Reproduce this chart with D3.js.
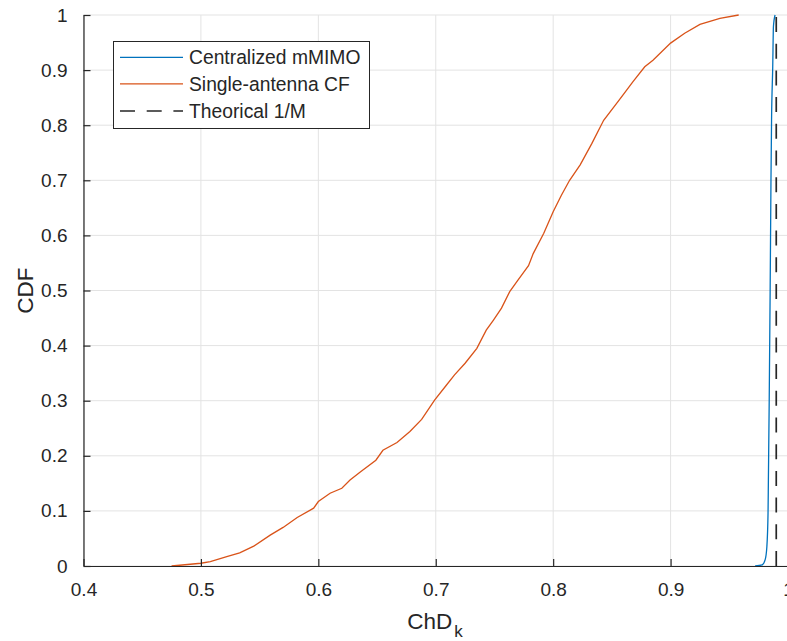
<!DOCTYPE html>
<html>
<head>
<meta charset="utf-8">
<script src="https://cdn.jsdelivr.net/npm/d3@7"></script>
<style>
  html, body { margin: 0; padding: 0; background: #fff; }
  svg { display: block; }
  text { font-family: "Liberation Sans", Arial, Helvetica, sans-serif; fill: #262626; }
</style>
</head>
<body>
<svg id="chart" width="787" height="641"></svg>
<script>
// ---- data ----
const xTicks = [0.4, 0.5, 0.6, 0.7, 0.8, 0.9, 1];
const yTicks = [0, 0.1, 0.2, 0.3, 0.4, 0.5, 0.6, 0.7, 0.8, 0.9, 1];
const xTickLabels = ["0.4", "0.5", "0.6", "0.7", "0.8", "0.9", "1"];
const yTickLabels = ["0", "0.1", "0.2", "0.3", "0.4", "0.5", "0.6", "0.7", "0.8", "0.9", "1"];
const seriesNames = ["Centralized mMIMO", "Single-antenna CF", "Theorical 1/M"];

const centralizedX = [0.972, 0.978, 0.9805, 0.982, 0.983, 0.9833, 0.984, 0.9848, 0.9855, 0.986, 0.987, 0.9876, 0.989];
const centralizedY = [0, 0.002, 0.011, 0.035, 0.096, 0.156, 0.3, 0.5, 0.7, 0.81, 0.906, 0.979, 1];

const singleX = [0.475, 0.500, 0.508, 0.522, 0.533, 0.545, 0.559, 0.570, 0.582, 0.596, 0.600, 0.610, 0.620, 0.627, 0.636,
  0.649, 0.655, 0.667, 0.678, 0.688, 0.699, 0.709, 0.716, 0.725, 0.735, 0.743, 0.749, 0.756, 0.763, 0.770, 0.779,
  0.783, 0.792, 0.800, 0.807, 0.814, 0.823, 0.833, 0.843, 0.856, 0.868, 0.878, 0.885, 0.900, 0.912, 0.925, 0.942, 0.958];
const singleY = [0, 0.005, 0.008, 0.017, 0.024, 0.036, 0.056, 0.070, 0.088, 0.105, 0.117, 0.132, 0.141, 0.156, 0.171,
  0.192, 0.210, 0.224, 0.244, 0.266, 0.301, 0.328, 0.347, 0.368, 0.395, 0.428, 0.446, 0.468, 0.498, 0.519, 0.545,
  0.567, 0.604, 0.643, 0.673, 0.700, 0.728, 0.767, 0.809, 0.845, 0.879, 0.906, 0.918, 0.949, 0.967, 0.983, 0.994, 1.0];

const theoryX = 0.99;

const colors = ["#0072BD", "#D95319", "#262626"];

// ---- layout ----
const svg = d3.select("#chart");
const pL = 83.5, pR = 788, pT = 15, pB = 566;
const x = d3.scaleLinear().domain([0.4, 1]).range([pL, pR]);
const y = d3.scaleLinear().domain([0, 1]).range([pB, pT]);

// grid
const grid = svg.append("g");
grid.selectAll("line.gx").data(xTicks).enter().append("line")
  .attr("x1", d => x(d)).attr("x2", d => x(d)).attr("y1", pT).attr("y2", pB)
  .attr("stroke", "#e3e3e3").attr("stroke-width", 1);
grid.selectAll("line.gy").data(yTicks).enter().append("line")
  .attr("x1", pL).attr("x2", pR).attr("y1", d => y(d)).attr("y2", d => y(d))
  .attr("stroke", "#e3e3e3").attr("stroke-width", 1);

// curves
const line = d3.line().x(d => x(d[0])).y(d => y(d[1]));
svg.append("path").datum(singleX.map((v, i) => [v, singleY[i]]))
  .attr("d", line).attr("fill", "none").attr("stroke", colors[1]).attr("stroke-width", 1.3);
svg.append("path").datum(centralizedX.map((v, i) => [v, centralizedY[i]]))
  .attr("d", line.curve(d3.curveMonotoneX)).attr("fill", "none").attr("stroke", colors[0]).attr("stroke-width", 1.3);
svg.append("line")
  .attr("x1", x(theoryX)).attr("x2", x(theoryX)).attr("y1", y(0)).attr("y2", y(1))
  .attr("stroke", colors[2]).attr("stroke-width", 1.7).attr("stroke-dasharray", "15,11.7");

// axes
const xAxis = d3.axisBottom(x).tickValues(xTicks).tickFormat((d, i) => xTickLabels[i]).tickSizeInner(-7).tickSizeOuter(0).tickPadding(17);
const yAxis = d3.axisLeft(y).tickValues(yTicks).tickFormat((d, i) => yTickLabels[i]).tickSizeInner(-7).tickSizeOuter(0).tickPadding(16);
const gx = svg.append("g").attr("transform", `translate(0,${pB})`).call(xAxis);
const gy = svg.append("g").attr("transform", `translate(${pL},0)`).call(yAxis);
[gx, gy].forEach(g => {
  g.select(".domain").attr("stroke", "#262626").attr("stroke-width", 1.2);
  g.selectAll(".tick line").attr("stroke", "#262626").attr("stroke-width", 1.2);
  g.selectAll(".tick text").attr("font-size", 19).attr("fill", "#262626")
    .attr("font-family", "'Liberation Sans', Arial, sans-serif");
});

// axis labels
svg.append("text").attr("transform", `translate(33,${(pT + pB) / 2}) rotate(-90)`)
  .attr("text-anchor", "middle").attr("font-size", 22.5).text("CDF");
const xl = svg.append("text").attr("x", 435).attr("y", 629).attr("text-anchor", "middle").attr("font-size", 22.5);
xl.append("tspan").text("ChD");
xl.append("tspan").attr("font-size", 17).attr("dy", 8).attr("dx", 2).text("k");

// legend
const lg = svg.append("g");
lg.append("rect").attr("x", 113.5).attr("y", 41.5).attr("width", 256).attr("height", 87)
  .attr("fill", "#fff").attr("stroke", "#262626").attr("stroke-width", 1);
const rowsY = [57.3, 83.8, 111];
const dashes = [null, null, "15,11.7"];
seriesNames.forEach((name, i) => {
  lg.append("line").attr("x1", 120).attr("x2", 183).attr("y1", rowsY[i]).attr("y2", rowsY[i])
    .attr("stroke", colors[i]).attr("stroke-width", i === 2 ? 1.7 : 1.3)
    .attr("stroke-dasharray", dashes[i]);
  lg.append("text").attr("x", 189).attr("y", rowsY[i] + 6.8).attr("font-size", 19.3).attr("fill", "#000").text(name);
});
</script>
</body>
</html>
